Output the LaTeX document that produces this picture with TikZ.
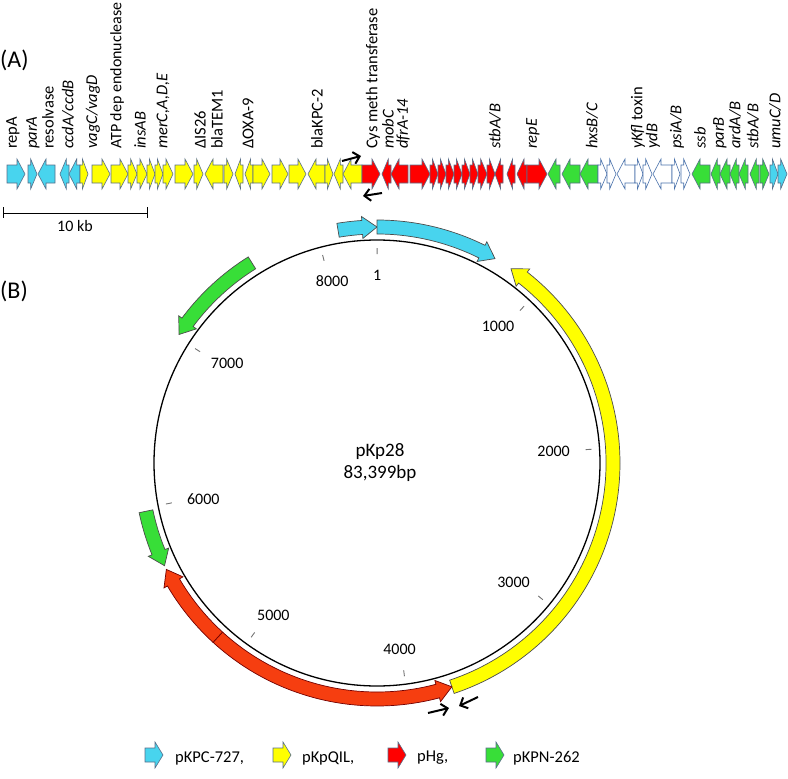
\documentclass[tikz,border=0pt]{standalone}
\usepackage{fontspec}
\setmainfont{Carlito}
\usetikzlibrary{arrows.meta,positioning}
\definecolor{plcyan}{RGB}{72,212,238}
\definecolor{plyellow}{RGB}{255,255,0}
\definecolor{plred}{RGB}{255,0,0}
\definecolor{plorange}{RGB}{246,62,16}
\definecolor{plgreen}{RGB}{56,222,56}
\definecolor{genebd}{RGB}{88,110,138}
\definecolor{whitebd}{RGB}{72,112,170}
\tikzset{
    genebox/.style={
    line width=0.6pt,line join=miter
    },
    arcband/.style={
    line width=0.7pt,line join=miter
    },
    tickln/.style={
    draw=black!55,line width=0.9pt
    },
    ticklbl/.style={
    font=\fontsize{16}{19}\selectfont,inner sep=0pt
    },
    glbl/.style={
    font=\fontsize{16.5}{20}\selectfont,rotate=90,anchor=west,inner sep=0pt
    },
    keylbl/.style={
    font=\fontsize{16.5}{19}\selectfont,anchor=west,inner sep=0pt
    },
    primer/.style={
    -{Straight Barb[length=6pt,width=12pt]},line width=2pt
    },
}
% gene in the linear map: start x, tip x, fill
\newcommand{\gene}[4][genebd]{%
  \pgfmathsetmacro{\gdx}{ifthenelse(#3>#2,1,-1)*min(8,0.7*abs(#3-#2))}%
  \draw[genebox,draw=#1,fill=#4] (#2,165) -- ({#3-(\gdx)},165) -- ({#3-(\gdx)},159)
    -- (#3,174) -- ({#3-(\gdx)},189) -- ({#3-(\gdx)},183) -- (#2,183) -- cycle;}
% curved block outside the circle: tail angle, head angle (clockwise from top), fill, border
\newcommand{\arcgene}[4]{%
  \pgfmathsetmacro{\gta}{#1-90}%
  \pgfmathsetmacro{\gha}{#2-90}%
  \pgfmathsetmacro{\gba}{\gha-ifthenelse(#2>#1,1,-1)*3.6}%
  \draw[arcband,draw=#4,fill=#3] (\gta:229) arc[start angle=\gta,end angle=\gba,radius=229]
    -- (\gba:225) -- (\gha:236) -- (\gba:247) -- (\gba:243)
    arc[start angle=\gba,end angle=\gta,radius=243] -- cycle;}
% tick and its number on the circle
\newcommand{\maptick}[2]{%
  \pgfmathsetmacro{\gma}{#1*0.0431655-90}%
  \draw[tickln] (\gma:209) -- (\gma:215);
  \node[ticklbl] (#2) at ({177*cos(\gma)},{188*sin(\gma)}) {#1};}
% key arrow: left x, fill
\newcommand{\keyarrow}[2]{%
  \draw[genebox,draw=genebd,fill=#2] (#1,748) -- (#1+10,748) -- (#1+10,742) -- (#1+18,755)
    -- (#1+10,768) -- (#1+10,762) -- (#1,762) -- cycle;}

\begin{document}
\begin{tikzpicture}[x=1pt,y=-1pt]
  \useasboundingbox (0,0) rectangle (788,779);

  % (A) linear map
  \node[anchor=west,inner sep=0pt,font=\fontsize{24}{28}\selectfont] (labA) at (0,60) {(A)};

  \gene{7}{25}{plcyan} \gene{28}{37}{plcyan} \gene{55}{38}{plcyan} \gene{69}{60}{plcyan}
  \gene{80}{69}{plcyan}
  \gene{80}{88}{plyellow} \gene{92}{110}{plyellow} \gene{111}{128}{plyellow}
  \gene{128}{137}{plyellow} \gene{137}{147}{plyellow} \gene{147}{155}{plyellow}
  \gene{155}{163}{plyellow} \gene{163}{173}{plyellow} \gene{175}{193}{plyellow}
  \gene{194}{203}{plyellow} \gene{223}{205}{plyellow} \gene{224}{233}{plyellow}
  \gene{243}{235}{plyellow} \gene{253}{245}{plyellow} \gene{253}{270}{plyellow}
  \gene{272}{288}{plyellow} \gene{289}{306}{plyellow} \gene{325}{308}{plyellow}
  \gene{325}{333}{plyellow} \gene{343}{334}{plyellow} \gene{362}{343}{plyellow}
  \gene{362}{380}{plred} \gene{391}{382}{plred} \gene{408}{391}{plred} \gene{410}{430}{plred}
  \gene{430}{438}{plred} \gene{438}{446}{plred} \gene{446}{454}{plred} \gene{454}{462}{plred}
  \gene{462}{470}{plred} \gene{470}{478}{plred} \gene{478}{487}{plred} \gene{487}{495}{plred}
  \gene{503}{495}{plred} \gene{515}{507}{plred} \gene{527}{517}{plred} \gene{527}{547}{plred}
  \gene{560}{548}{plgreen} \gene{580}{562}{plgreen} \gene{598}{580}{plgreen}
  \gene[whitebd]{598}{607}{white} \gene[whitebd]{607}{616}{white} \gene[whitebd]{635}{617}{white}
  \gene[whitebd]{635}{643}{white} \gene[whitebd]{643}{652}{white} \gene[whitebd]{672}{653}{white}
  \gene[whitebd]{672}{680}{white} \gene[whitebd]{681}{690}{white}
  \gene{710}{692}{plgreen} \gene{720}{711}{plgreen} \gene{730}{720}{plgreen}
  \gene{739}{730}{plgreen} \gene{748}{739}{plgreen} \gene{759}{750}{plgreen}
  \gene{760}{769}{plgreen}
  \gene{770}{778}{plcyan} \gene{778}{787}{plcyan}

  \node[glbl] (repA) at (13,149) {repA};
  \node[glbl] (parA) at (33,149) {\textit{parA}};
  \node[glbl] (resolv) at (48,149) {resolvase};
  \node[glbl] (ccd) at (68,149) {\textit{ccdA/ccdB}};
  \node[glbl] (vag) at (93,149) {\textit{vagC/vagD}};
  \node[glbl,font=\fontsize{16}{19}\selectfont] (atp) at (117,149) {ATP dep endonuclease};
  \node[glbl] (ins) at (140,149) {\textit{insAB}};
  \node[glbl] (mer) at (163,149) {\textit{merC,A,D,E}};
  \node[glbl] (is26) at (200,149) {ΔIS26};
  \node[glbl] (tem) at (217,149) {blaTEM1};
  \node[glbl] (oxa) at (248,149) {ΔOXA-9};
  \node[glbl] (kpc) at (317,149) {blaKPC-2};
  \node[glbl] (cys) at (373,149) {Cys meth transferase};
  \node[glbl] (mob) at (388,149) {\textit{mobC}};
  \node[glbl] (dfr) at (403,149) {\textit{dfrA-14}};
  \node[glbl] (stb1) at (495,149) {\textit{stbA/B}};
  \node[glbl] (rep) at (533,149) {\textit{repE}};
  \node[glbl] (hxs) at (592,149) {\textit{hxsB/C}};
  \node[glbl] (ykf) at (638,149) {\textit{yKfl} toxin};
  \node[glbl] (ydb) at (653,149) {\textit{ydB}};
  \node[glbl] (psi) at (677,149) {\textit{psiA/B}};
  \node[glbl] (ssb) at (700,149) {\textit{ssb}};
  \node[glbl] (parB) at (720,149) {\textit{parB}};
  \node[glbl] (ard) at (735,149) {\textit{ardA/B}};
  \node[glbl] (stb2) at (753,149) {\textit{stbA/B}};
  \node[glbl] (umu) at (775,149) {\textit{umuC/D}};

  \coordinate (pa1) at (342,161); \coordinate (pa2) at (361,156);
  \coordinate (pb1) at (382,193); \coordinate (pb2) at (363,196);
  \draw[primer] (pa1) -- (pa2);
  \draw[primer] (pb1) -- (pb2);

  % scale bar
  \coordinate (sb1) at (3,213); \coordinate (sb2) at (147,213);
  \draw[line width=0.9pt] (sb1) -- (sb2);
  \draw[line width=0.9pt] (3,207) -- (3,218) (147,207) -- (147,218);
  \node[ticklbl] (kb) at (75,226) {10 kb};

  % (B) circular map
  \node[anchor=west,inner sep=0pt,font=\fontsize{24}{28}\selectfont] (labB) at (0,291) {(B)};

  \begin{scope}[shift={(377,463)}]
    \draw[line width=1.3pt] (0,0) circle[radius=223];
    \maptick{1}{m1} \maptick{1000}{m2} \maptick{2000}{m3}
    \maptick{3000}{m4} \maptick{4000}{m5} \maptick{5000}{m6}
    \maptick{6000}{m7} \maptick{7000}{m8} \maptick{8000}{m9}
    \arcgene{-9.5}{0}{plcyan}{black!70}
    \arcgene{0}{30}{plcyan}{black!70}
    \arcgene{161.5}{34.6}{plyellow}{black!70}
    \arcgene{222.4}{243.2}{plorange}{red!45!black}
    \arcgene{222.4}{161.5}{plorange}{red!45!black}
    \arcgene{258.2}{244.2}{plgreen}{black!70}
    \arcgene{328}{303}{plgreen}{black!70}
    \node[align=center,font=\fontsize{19}{22}\selectfont] (plasmid) at (3,0) {pKp28\\83,399bp};
  \end{scope}

  \coordinate (pc1) at (428,713); \coordinate (pc2) at (449,708);
  \coordinate (pd1) at (478,697); \coordinate (pd2) at (459,706);
  \draw[primer] (pc1) -- (pc2);
  \draw[primer] (pd1) -- (pd2);

  % key
  \keyarrow{145}{plcyan}
  \node[keylbl] (k1) at (175,758) {pKPC-727,};
  \keyarrow{273}{plyellow}
  \node[keylbl] (k2) at (302,758) {pKpQIL,};
  \keyarrow{388}{plred}
  \node[keylbl] (k3) at (417,758) {pHg,};
  \keyarrow{486}{plgreen}
  \node[keylbl] (k4) at (513,758) {pKPN-262};
\end{tikzpicture}
\end{document}
